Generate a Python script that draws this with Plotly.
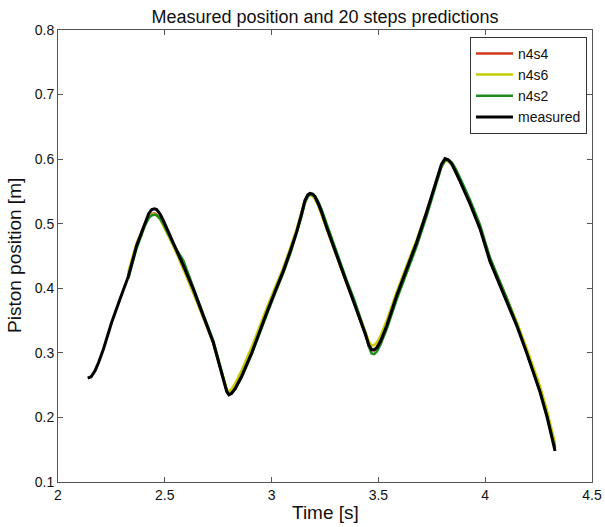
import plotly.graph_objects as go

time = [2.139, 2.155, 2.173, 2.19, 2.212, 2.251, 2.290,
        2.329, 2.368, 2.407, 2.425, 2.439, 2.452, 2.462, 2.478, 2.493, 2.540,
        2.587, 2.633, 2.680, 2.727, 2.774, 2.790, 2.800, 2.812, 2.830, 2.860,
        2.907, 2.946, 2.977, 3.016, 3.055, 3.090, 3.117, 3.140, 3.156, 3.170,
        3.180, 3.192, 3.203, 3.220, 3.234, 3.260, 3.289, 3.320, 3.351, 3.385,
        3.414, 3.440, 3.455, 3.468, 3.480, 3.493, 3.510, 3.539, 3.585, 3.632,
        3.679, 3.726, 3.773, 3.795, 3.812, 3.827, 3.843, 3.860, 3.882, 3.930,
        3.976, 4.022, 4.060, 4.101, 4.150, 4.194, 4.225, 4.257, 4.290, 4.327]

measured = [0.261, 0.263, 0.272, 0.285, 0.305, 0.347, 0.383,
            0.418, 0.466, 0.502, 0.516, 0.522, 0.523, 0.522, 0.515, 0.505, 0.471,
            0.435, 0.399, 0.357, 0.316, 0.259, 0.240, 0.235, 0.237, 0.245, 0.264,
            0.300, 0.336, 0.362, 0.395, 0.427, 0.460, 0.487, 0.515, 0.536, 0.545,
            0.547, 0.546, 0.542, 0.530, 0.518, 0.492, 0.466, 0.437, 0.409, 0.380,
            0.354, 0.328, 0.312, 0.305, 0.305, 0.308, 0.318, 0.342, 0.388, 0.430,
            0.471, 0.518, 0.570, 0.592, 0.601, 0.599, 0.593, 0.582, 0.566, 0.530,
            0.492, 0.442, 0.412, 0.381, 0.340, 0.300, 0.270, 0.239, 0.200, 0.148]

pred_time = time[7:]

n4s4 = [0.420, 0.468, 0.500, 0.511, 0.515, 0.516, 0.514, 0.508, 0.499, 0.467,
        0.431, 0.395, 0.355, 0.315, 0.260, 0.241, 0.236, 0.240, 0.250, 0.269,
        0.305, 0.340, 0.366, 0.398, 0.430, 0.462, 0.489, 0.516, 0.536, 0.544,
        0.545, 0.543, 0.539, 0.528, 0.516, 0.491, 0.465, 0.436, 0.408, 0.379,
        0.353, 0.329, 0.313, 0.305, 0.304, 0.309, 0.321, 0.346, 0.391, 0.432,
        0.472, 0.518, 0.568, 0.589, 0.598, 0.597, 0.592, 0.582, 0.566, 0.531,
        0.493, 0.444, 0.414, 0.383, 0.343, 0.303, 0.274, 0.244, 0.205, 0.155]

n4s6 = [0.425, 0.470, 0.500, 0.510, 0.514, 0.515, 0.513, 0.507, 0.497, 0.466,
        0.430, 0.394, 0.355, 0.316, 0.262, 0.244, 0.240, 0.243, 0.253, 0.273,
        0.309, 0.344, 0.369, 0.401, 0.432, 0.465, 0.491, 0.518, 0.537, 0.544,
        0.545, 0.543, 0.538, 0.527, 0.515, 0.490, 0.464, 0.436, 0.408, 0.381,
        0.356, 0.333, 0.318, 0.311, 0.312, 0.316, 0.326, 0.350, 0.394, 0.435,
        0.475, 0.520, 0.569, 0.589, 0.597, 0.597, 0.592, 0.582, 0.567, 0.532,
        0.494, 0.446, 0.416, 0.386, 0.346, 0.307, 0.278, 0.248, 0.210, 0.160]

n4s2 = [0.415, 0.462, 0.497, 0.509, 0.513, 0.514, 0.513, 0.508, 0.500, 0.468,
        0.443, 0.401, 0.360, 0.319, 0.262, 0.242, 0.236, 0.237, 0.244, 0.262,
        0.298, 0.333, 0.359, 0.392, 0.424, 0.456, 0.484, 0.511, 0.532, 0.542,
        0.545, 0.545, 0.543, 0.533, 0.522, 0.497, 0.471, 0.442, 0.413, 0.384,
        0.357, 0.330, 0.310, 0.299, 0.298, 0.302, 0.313, 0.337, 0.382, 0.424,
        0.465, 0.512, 0.565, 0.588, 0.598, 0.599, 0.595, 0.586, 0.571, 0.536,
        0.498, 0.448, 0.417, 0.385, 0.343, 0.302, 0.272, 0.240, 0.202, 0.152]

series_names = ["n4s4", "n4s6", "n4s2", "measured"]
colors = ["#d0391c", "#c8c800", "#1d8c1d", "#000000"]
widths = [2.5, 2.5, 2.5, 3]

FONT = "Liberation Sans, Arial, sans-serif"

fig = go.Figure()
for name, xs, ys, col, w in [
    (series_names[0], pred_time, n4s4, colors[0], widths[0]),
    (series_names[1], pred_time, n4s6, colors[1], widths[1]),
    (series_names[2], pred_time, n4s2, colors[2], widths[2]),
    (series_names[3], time, measured, colors[3], widths[3]),
]:
    fig.add_trace(go.Scatter(x=xs, y=ys, mode="lines", name=name,
                             line=dict(color=col, width=w)))

axis_common = dict(
    showline=True, linecolor="#555555", linewidth=1, mirror="ticks",
    ticks="inside", ticklen=5, tickcolor="#555555", showgrid=False,
    zeroline=False, automargin=False,
    tickfont=dict(family=FONT, size=14, color="#111111"),
)

fig.update_layout(
    width=605, height=527,
    margin=dict(l=58, r=13, t=30, b=45),
    paper_bgcolor="white", plot_bgcolor="white",
    font=dict(family=FONT, color="#111111"),
    title=dict(text="Measured position and 20 steps predictions",
               xref="paper", x=0.5, xanchor="center",
               yref="container", y=0.969, yanchor="middle",
               font=dict(family=FONT, size=18, color="#111111")),
    xaxis=dict(range=[2, 4.5], dtick=0.5, tick0=2, **axis_common),
    yaxis=dict(range=[0.1, 0.8], dtick=0.1, tick0=0.1, tickformat=".1f",
               **axis_common),
    legend=dict(x=0.9906, xanchor="right", y=0.985, yanchor="top",
                bgcolor="white", bordercolor="#333333", borderwidth=1,
                font=dict(family=FONT, size=14, color="#111111"),
                tracegroupgap=0, itemwidth=37),
    showlegend=True,
    annotations=[
        dict(text="Time [s]", xref="paper", yref="paper", x=0.5, y=0,
             xanchor="center", yanchor="middle", yshift=-30, showarrow=False,
             font=dict(family=FONT, size=19, color="#111111")),
        dict(text="Piston position [m]", xref="paper", yref="paper", x=0, y=0.5,
             xanchor="center", yanchor="middle", xshift=-44, textangle=-90,
             showarrow=False, font=dict(family=FONT, size=19, color="#111111")),
    ],
)

fig.write_html("out.html",
               config={"displayModeBar": False},
               post_script="document.body.style.margin='0px';document.body.style.overflow='hidden';")
